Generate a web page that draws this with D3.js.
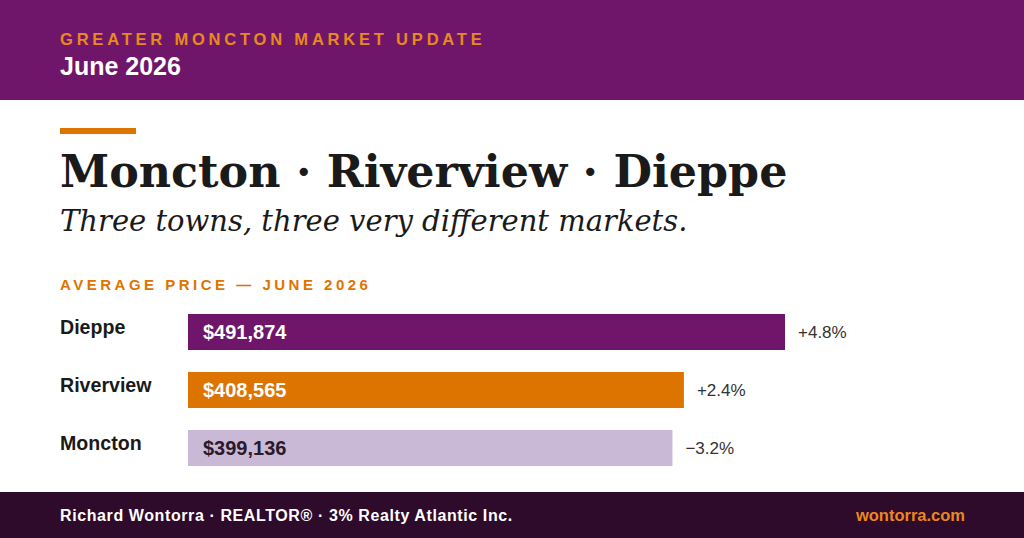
<!DOCTYPE html>
<html><head><meta charset="utf-8">
<script src="https://cdn.jsdelivr.net/npm/d3@7"></script>
<style>body{margin:0}svg{display:block}</style>
</head><body>
<script>
// chart data
const towns = ["Dieppe", "Riverview", "Moncton"];
const prices = [491874, 408565, 399136];
const changes = ["+4.8%", "+2.4%", "\u22123.2%"];
const colors = ["#70166a", "#de7400", "#c9b8d6"];
const valueColors = ["#fff", "#fff", "#2a1a2a"];

const W = 1024, H = 538;
const svg = d3.select("body").append("svg").attr("width", W).attr("height", H);
svg.append("rect").attr("width", W).attr("height", H).attr("fill", "#fff");

// header band
svg.append("rect").attr("width", W).attr("height", 100).attr("fill", "#70166a");
svg.append("text").attr("x", 60).attr("y", 45).text("GREATER MONCTON MARKET UPDATE")
  .attr("fill", "#e8891e").attr("font-family", "Liberation Sans, Arial").attr("font-weight", "bold")
  .attr("font-size", 16.5).attr("letter-spacing", 3.8);
svg.append("text").attr("x", 60).attr("y", 75).text("June 2026")
  .attr("fill", "#fff").attr("font-family", "Liberation Sans, Arial").attr("font-weight", "bold").attr("font-size", 25);

// title block
svg.append("rect").attr("x", 60).attr("y", 128).attr("width", 76).attr("height", 6).attr("fill", "#de7400");
svg.append("text").attr("x", 60).attr("y", 187).text("Moncton \u00b7 Riverview \u00b7 Dieppe")
  .attr("fill", "#1a1a1a").attr("font-family", "DejaVu Serif").attr("font-weight", "bold").attr("font-size", 44.4);
svg.append("text").attr("x", 60).attr("y", 231).text("Three towns, three very different markets.")
  .attr("fill", "#1a1a1a").attr("font-family", "DejaVu Serif").attr("font-style", "italic").attr("font-size", 29);
svg.append("text").attr("x", 60).attr("y", 290).text("AVERAGE PRICE \u2014 JUNE 2026")
  .attr("fill", "#de7400").attr("font-family", "Liberation Sans, Arial").attr("font-weight", "bold")
  .attr("font-size", 15).attr("letter-spacing", 3.5);

// bars
const x = d3.scaleLinear().domain([0, 491874]).range([188, 785]);
const y = d3.scaleBand().domain(towns).range([314, 466]).paddingInner(22 / 58).paddingOuter(0);
const fmt = d3.format("$,");
const g = svg.selectAll("g.row").data(towns).join("g").attr("class", "row");
g.append("rect").attr("x", x(0)).attr("y", d => y(d))
  .attr("width", (d, i) => x(prices[i]) - x(0)).attr("height", y.bandwidth())
  .attr("fill", (d, i) => colors[i]);
g.append("text").attr("x", 60).attr("y", d => y(d) + 20).text(d => d)
  .attr("fill", "#1a1a1a").attr("font-family", "Liberation Sans, Arial").attr("font-weight", "bold").attr("font-size", 19.6);
g.append("text").attr("x", 203).attr("y", d => y(d) + y.bandwidth() / 2 + 7).text((d, i) => fmt(prices[i]))
  .attr("fill", (d, i) => valueColors[i]).attr("font-family", "Liberation Sans, Arial").attr("font-weight", "bold").attr("font-size", 20);
g.append("text").attr("x", (d, i) => x(prices[i]) + 13).attr("y", d => y(d) + y.bandwidth() / 2 + 6).text((d, i) => changes[i])
  .attr("fill", "#333").attr("font-family", "Liberation Sans, Arial").attr("font-size", 17);

// footer
svg.append("rect").attr("y", 492).attr("width", W).attr("height", 46).attr("fill", "#2e0a2b");
svg.append("text").attr("x", 60).attr("y", 521).text("Richard Wontorra \u00b7 REALTOR\u00ae \u00b7 3% Realty Atlantic Inc.")
  .attr("fill", "#fff").attr("font-family", "Liberation Sans, Arial").attr("font-weight", "bold").attr("font-size", 16).attr("letter-spacing", 0.6);
svg.append("text").attr("x", 965).attr("y", 521).attr("text-anchor", "end").text("wontorra.com")
  .attr("fill", "#e8891e").attr("font-family", "Liberation Sans, Arial").attr("font-weight", "bold").attr("font-size", 16.5);
</script>
</body></html>
